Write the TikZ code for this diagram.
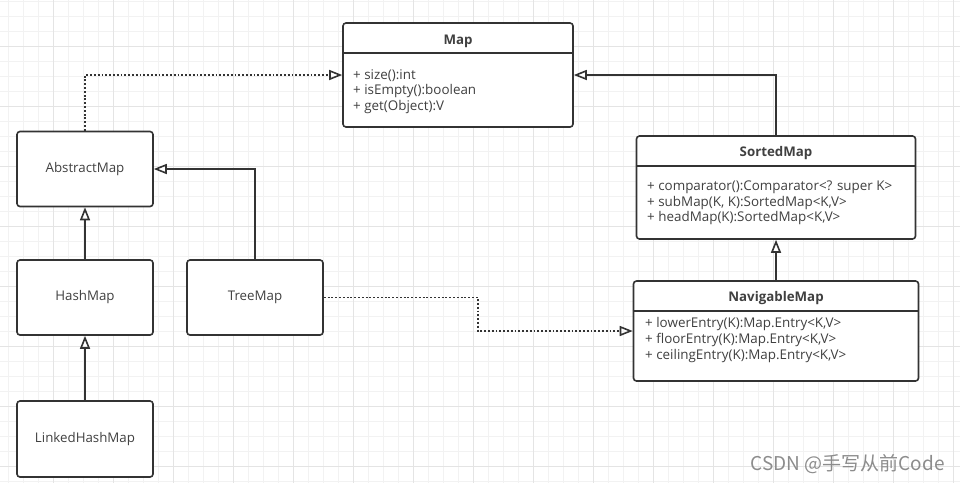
\documentclass[tikz,border=0pt]{standalone}
\usepackage{fontspec}
\setmainfont{Open Sans}
\newfontfamily\cjkfont{Noto Sans CJK SC}
\usetikzlibrary{arrows.meta, positioning}
\definecolor{linedark}{RGB}{51, 51, 51}
\definecolor{textdark}{RGB}{64, 64, 64}
\definecolor{gridminor}{RGB}{242, 242, 242}
\definecolor{gridmajor}{RGB}{228, 228, 228}
\definecolor{markgray}{RGB}{140, 140, 140}

\begin{document}
\begin{tikzpicture}[
    x=1pt, y=-1pt,
    classbox/.style={rectangle, draw=linedark, rounded corners=3pt, fill=white, line width=1.6pt, inner sep=0pt},
    plainbox/.style={classbox, minimum width=136pt, minimum height=75pt, font=\fontsize{13.3}{15}\selectfont, text=textdark},
    title/.style={font=\fontsize{13.3}{15}\selectfont\bfseries, text=textdark, inner sep=0pt, anchor=base},
    members/.style={font=\fontsize{13.4}{15.6}\selectfont, text=textdark, align=left, anchor=north west, inner sep=0pt},
    divider/.style={draw=linedark, line width=1.6pt},
    inherit/.style={-{Triangle[open, length=13pt, width=10pt, line width=1.6pt]}, line width=1.6pt, draw=linedark},
    realize/.style={inherit, line width=1.9pt, dash pattern={on 1.9pt off 1.9pt}},
]

% Grid background
\useasboundingbox (0,0) rectangle (960,483);
\fill[white] (0,0) rectangle (960,483);
\foreach \gx in {8.3, 23.3, ..., 960} {\draw[gridminor, line width=0.8pt] (\gx,0) -- (\gx,483);}
\foreach \gy in {1.7, 16.7, ..., 483} {\draw[gridminor, line width=0.8pt] (0,\gy) -- (960,\gy);}
\foreach \gx in {53.3, 113.3, ..., 960} {\draw[gridmajor, line width=0.8pt] (\gx,0) -- (\gx,483);}
\foreach \gy in {46.7, 106.7, ..., 483} {\draw[gridmajor, line width=0.8pt] (0,\gy) -- (960,\gy);}

% Map interface
\node[classbox, minimum width=230pt, minimum height=104pt] (map) at (458,75) {};
\node[title] (maptitle) at (458,44.3) {Map};
\draw[divider] (map.west |- 0,53) -- (map.east |- 0,53);
\node[members] (mapops) at (353,69) {+ size():int\\+ isEmpty():boolean\\+ get(Object):V};

% SortedMap interface
\node[classbox, minimum width=279pt, minimum height=103pt] (sortedmap) at (776,187.5) {};
\node[title] (sortedtitle) at (776,156) {SortedMap};
\draw[divider] (sortedmap.west |- 0,166) -- (sortedmap.east |- 0,166);
\node[members] (sortedops) at (647,180.5) {+ comparator():Comparator<? super K>\\+ subMap(K, K):SortedMap<K,V>\\+ headMap(K):SortedMap<K,V>};

% NavigableMap interface
\node[classbox, minimum width=285pt, minimum height=100pt] (navigablemap) at (776,331) {};
\node[title] (navigabletitle) at (776,301.7) {NavigableMap};
\draw[divider] (navigablemap.west |- 0,311) -- (navigablemap.east |- 0,311);
\node[members] (navigableops) at (645,317.5) {+ lowerEntry(K):Map.Entry<K,V>\\+ floorEntry(K):Map.Entry<K,V>\\+ ceilingEntry(K):Map.Entry<K,V>};

% Classes
\node[plainbox] (abstractmap) at (85,169) {AbstractMap};
\node[plainbox] (hashmap) at (85,297.5) {HashMap};
\node[plainbox] (treemap) at (255,297.5) {TreeMap};
\node[plainbox, minimum height=76pt] (linkedhashmap) at (85,439) {LinkedHashMap};

% Arrows
\coordinate (bend) at (478,0);
\draw[realize] (abstractmap.north) |- (map.west);
\draw[inherit] (sortedmap.north) |- (map.east);
\draw[inherit] (navigablemap.north) -- (navigablemap.north |- sortedmap.south);
\draw[inherit] (hashmap) -- (abstractmap);
\draw[inherit] (linkedhashmap) -- (hashmap);
\draw[inherit] (treemap.north) |- (abstractmap.east);
\draw[realize] (treemap.east) -- (treemap.east -| bend) |- (navigablemap.west);

% Watermark
\node[font=\cjkfont\fontsize{19}{21}\selectfont, text=markgray, anchor=east, inner sep=0pt] (mark) at (945,464) {CSDN @手写从前Code};

\end{tikzpicture}
\end{document}
